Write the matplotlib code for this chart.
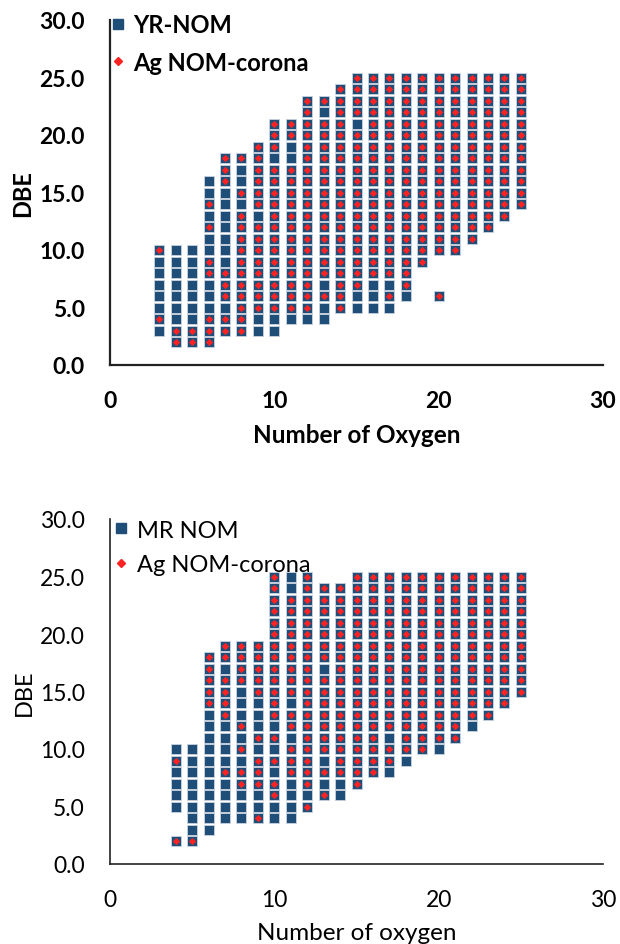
import matplotlib
matplotlib.use('Agg')
import matplotlib.pyplot as plt
from matplotlib.lines import Line2D

plt.rcParams['font.family'] = ['Lato', 'DejaVu Sans']

# ---- top panel: YR-NOM vs Ag NOM-corona ----
yr_oxygen = [3, 4, 5, 6, 7, 8, 9, 10, 11, 12, 13, 14, 15, 16, 17, 18, 19, 20, 21, 22, 23, 24, 25]
yr_dbe_min = [3, 2, 2, 2, 3, 3, 3, 3, 4, 4, 4, 5, 5, 5, 5, 6, 9, 10, 10, 11, 12, 13, 14]
yr_dbe_max = [10, 10, 10, 16, 18, 18, 19, 21, 21, 23, 23, 24, 25, 25, 25, 25, 25, 25, 25, 25, 25, 25, 25]
yr_extra = [(20, 6)]
yr_corona = {
    3: [10, 4],
    4: [3, 2],
    5: [3, 2],
    6: [14, 12, 9, 8, 4, 3, 2],
    7: [18, 17, 16, 8, 7, 6, 4, 3],
    8: [18, 15, 13, 12, 11, 10, 9, 8, 7, 6, 5, 4, 3],
    9: [19, 18, 17, 16, 15, 14, 12, 11, 10, 9, 8, 7, 6, 5],
    10: [21, 20, 19, 17, 16, 15, 14, 13, 12, 11, 10, 9, 8, 7, 6, 5],
    11: [21, 20, 17, 16, 15, 14, 13, 12, 11, 10, 9, 8, 7, 6, 5],
    12: [23, 22, 21, 20, 19, 18, 17, 16, 15, 14, 13, 12, 11, 10, 9, 8, 7, 6, 5],
    13: [23, 21, 20, 19, 18, 17, 16, 15, 14, 13, 12, 11, 10, 9, 8, 6],
    14: [24, 23, 22, 21, 20, 19, 18, 17, 16, 15, 14, 13, 12, 11, 10, 9, 8, 7, 6, 5],
    15: [25, 24, 23, 22, 20, 19, 18, 17, 16, 15, 14, 13, 12, 11, 10, 9, 8, 7],
    16: [25, 24, 23, 22, 21, 20, 19, 18, 17, 16, 15, 14, 13, 12, 11, 10, 9, 8],
    17: [25, 24, 23, 22, 21, 20, 19, 18, 17, 16, 15, 14, 13, 12, 11, 10, 9, 8, 6],
    18: [25, 24, 23, 22, 21, 20, 19, 18, 17, 16, 15, 14, 13, 12, 11, 10, 9, 8, 7],
    19: [25, 24, 23, 22, 21, 20, 19, 18, 17, 16, 15, 14, 13, 12, 11, 10, 9],
    20: [25, 24, 23, 22, 21, 20, 19, 18, 17, 16, 15, 14, 13, 12, 11, 10, 6],
    21: [25, 24, 23, 22, 21, 20, 19, 18, 17, 16, 15, 14, 13, 12, 11, 10],
    22: [25, 24, 23, 22, 21, 20, 19, 18, 17, 16, 15, 14, 13, 12, 11],
    23: [25, 24, 23, 22, 21, 20, 19, 18, 17, 16, 15, 14, 13, 12],
    24: [25, 24, 23, 22, 21, 20, 19, 18, 17, 16, 15, 14, 13],
    25: [25, 24, 23, 22, 21, 20, 19, 18, 17, 16, 15, 14],
}

# ---- bottom panel: MR NOM vs Ag NOM-corona ----
mr_oxygen = [4, 5, 6, 7, 8, 9, 10, 11, 12, 13, 14, 15, 16, 17, 18, 19, 20, 21, 22, 23, 24, 25]
mr_dbe_min = [5, 2, 3, 4, 4, 4, 4, 4, 5, 6, 6, 7, 8, 8, 9, 10, 10, 11, 12, 13, 14, 15]
mr_dbe_max = [10, 10, 18, 19, 19, 19, 25, 25, 25, 24, 24, 25, 25, 25, 25, 25, 25, 25, 25, 25, 25, 25]
mr_extra = [(4, 2)]
mr_corona = {
    4: [9, 2],
    5: [2],
    6: [18, 17, 16, 15, 14],
    7: [19, 18, 16, 15, 14, 13, 8],
    8: [19, 18, 17, 16, 12, 10, 8, 7],
    9: [19, 18, 17, 16, 15, 11, 9, 8, 7, 4],
    10: [25, 24, 23, 22, 21, 20, 19, 18, 17, 16, 15, 14, 13, 11, 9, 7, 6],
    11: [23, 22, 21, 20, 19, 18, 17, 16, 15, 13, 12, 10, 9, 8],
    12: [25, 24, 23, 22, 21, 20, 19, 18, 17, 16, 15, 14, 13, 12, 11, 10, 9, 8, 7, 5],
    13: [24, 23, 22, 21, 20, 19, 18, 16, 15, 14, 13, 12, 11, 10, 8, 6],
    14: [24, 23, 22, 21, 20, 19, 18, 17, 16, 15, 14, 13, 12, 11, 10, 9, 8],
    15: [25, 24, 23, 22, 21, 20, 19, 18, 17, 16, 15, 14, 13, 12, 11, 10, 9, 8, 7],
    16: [25, 24, 23, 22, 21, 20, 19, 18, 17, 16, 15, 14, 13, 12, 11, 10, 9, 8],
    17: [25, 24, 23, 22, 21, 20, 19, 18, 17, 16, 15, 14, 13, 12, 10, 9],
    18: [25, 24, 23, 22, 21, 20, 19, 18, 17, 16, 15, 14, 13, 12, 11, 10],
    19: [25, 24, 23, 22, 21, 20, 19, 18, 17, 16, 15, 14, 13, 12, 11, 10],
    20: [25, 24, 23, 22, 21, 20, 19, 18, 17, 16, 15, 14, 13, 12, 11],
    21: [25, 24, 23, 22, 21, 20, 19, 18, 17, 16, 15, 14, 13, 12, 11],
    22: [25, 24, 23, 22, 21, 20, 19, 18, 17, 16, 15, 14, 13],
    23: [25, 24, 23, 22, 21, 20, 19, 18, 17, 16, 15, 14, 13],
    24: [25, 24, 23, 22, 21, 20, 19, 18, 17, 16, 15, 14],
    25: [25, 24, 23, 22, 21, 20, 19, 18, 17, 16, 15],
}

x_ticks = [0, 10, 20, 30]
y_ticks = [0, 5, 10, 15, 20, 25, 30]

BLUE = '#1F4E79'
RED = '#FF2222'


def expand(oxygen, lo, hi, extra):
    xs, ys = [], []
    for o, a, b in zip(oxygen, lo, hi):
        for d in range(a, b + 1):
            xs.append(o)
            ys.append(d)
    for o, d in extra:
        xs.append(o)
        ys.append(d)
    return xs, ys


def corona_points(corona):
    xs, ys = [], []
    for o, vals in corona.items():
        for d in vals:
            xs.append(o)
            ys.append(d)
    return xs, ys


def draw_panel(ax, oxygen, lo, hi, extra, corona, nom_label, xlabel, weight,
               spine_w, leg_anchor, leg_space, leg_pad):
    bx, by = expand(oxygen, lo, hi, extra)
    rx, ry = corona_points(corona)
    ax.scatter(bx, by, marker='s', s=58, color=BLUE, edgecolors='#c9d3e0',
               linewidths=0.6, zorder=2)
    ax.scatter(rx, ry, marker='D', s=14, color=RED, linewidths=0, zorder=3)

    ax.set_xlim(0, 30)
    ax.set_ylim(0, 30)
    ax.set_xticks(x_ticks)
    ax.set_yticks(y_ticks)
    ax.set_yticklabels(['%.1f' % v for v in y_ticks])
    ax.tick_params(length=0, labelsize=16.5)
    ax.tick_params(axis='y', pad=18)
    ax.tick_params(axis='x', pad=18)
    for lab in ax.get_xticklabels() + ax.get_yticklabels():
        lab.set_fontweight(weight)
    for side in ['top', 'right']:
        ax.spines[side].set_visible(False)
    for side in ['left', 'bottom']:
        ax.spines[side].set_linewidth(spine_w)
        ax.spines[side].set_color('#222222')

    ax.set_xlabel(xlabel, fontsize=17.5, fontweight=weight, labelpad=9)
    ax.set_ylabel('DBE', fontsize=17, fontweight=weight, labelpad=4)

    handles = [
        Line2D([], [], marker='s', linestyle='none', markersize=7.5,
               markerfacecolor=BLUE, markeredgecolor=BLUE),
        Line2D([], [], marker='D', linestyle='none', markersize=3.6,
               markerfacecolor=RED, markeredgecolor=RED),
    ]
    ax.legend(handles, [nom_label, 'Ag NOM-corona'], loc='upper left',
              bbox_to_anchor=leg_anchor, frameon=False, handlelength=0.5,
              handletextpad=leg_pad, labelspacing=leg_space, borderpad=0,
              borderaxespad=0, prop={'size': 17, 'weight': weight})


fig = plt.figure(figsize=(6.2, 9.45), dpi=100)
ax1 = fig.add_axes([110 / 620, 1 - 366 / 945, 493 / 620, 345 / 945])
ax2 = fig.add_axes([110 / 620, 1 - 865 / 945, 493 / 620, 345 / 945])

draw_panel(ax1, yr_oxygen, yr_dbe_min, yr_dbe_max, yr_extra, yr_corona,
           'YR-NOM', 'Number of Oxygen', 'bold', 1.6, (0.004, 1.02), 0.62, 0.39)
draw_panel(ax2, mr_oxygen, mr_dbe_min, mr_dbe_max, mr_extra, mr_corona,
           'MR NOM', 'Number of oxygen', 'normal', 1.2, (0.01, 0.998), 0.56, 0.43)

fig.savefig('out.png', dpi=100)
